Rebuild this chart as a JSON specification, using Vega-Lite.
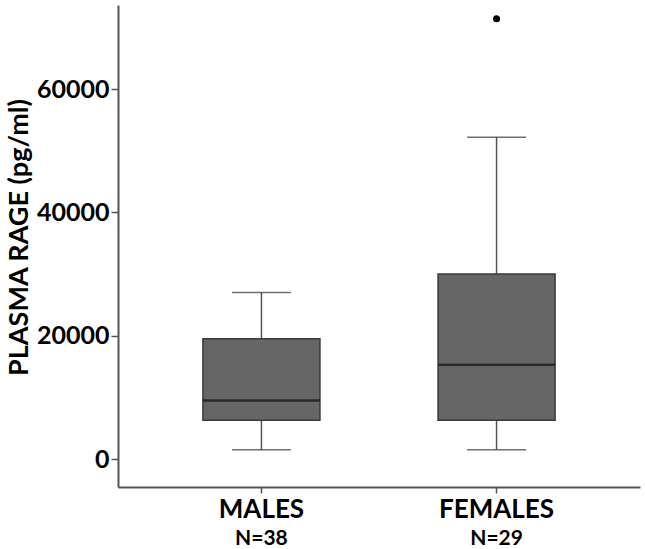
{
  "$schema": "https://vega.github.io/schema/vega-lite/v6.json",
  "width": 522,
  "height": 482,
  "autosize": {"type": "none"},
  "padding": {"left": 118, "top": 5, "right": 5, "bottom": 62},
  "background": "white",
  "config": {
    "view": {"stroke": null},
    "font": "Lato",
    "axis": {"grid": false, "domainColor": "#555555", "domainWidth": 2, "tickColor": "#555555", "tickWidth": 1.5, "labelFont": "Lato", "labelFontWeight": "bold", "labelColor": "#000000", "titleFont": "Lato", "titleFontWeight": "bold", "titleColor": "#000000"}
  },
  "datasets": {
    "boxes": [
      {"group": "MALES", "n": "N=38", "lower": 1500, "q1": 6300, "median": 9500, "q3": 19500, "upper": 27000},
      {"group": "FEMALES", "n": "N=29", "lower": 1500, "q1": 6300, "median": 15300, "q3": 30000, "upper": 52200}
    ],
    "outliers": [
      {"group": "FEMALES", "value": 71400}
    ]
  },
  "layer": [
    {
      "encoding": {
        "x": {
          "field": "group", "type": "nominal", "sort": ["MALES", "FEMALES"],
          "scale": {"paddingInner": 0, "paddingOuter": 0.11},
          "axis": {"title": null, "labelAngle": 0, "labelFontSize": 26, "labelPadding": 3, "tickSize": 6, "orient": "bottom"}
        }
      },
      "layer": [
        {
          "data": {"name": "boxes"},
          "mark": {"type": "rule", "color": "#555555", "strokeWidth": 1.5},
          "encoding": {
            "y": {"field": "lower", "type": "quantitative", "scale": {"domain": [-4540, 73640], "nice": false, "zero": false},
              "axis": {"title": "PLASMA RAGE (pg/ml)", "values": [0, 20000, 40000, 60000], "format": "d", "labelFontSize": 25, "labelPadding": 2, "tickSize": 7, "titleFontSize": 27, "titlePadding": 3, "titleY": 232}},
            "y2": {"field": "upper"}
          }
        },
        {
          "data": {"name": "boxes"},
          "mark": {"type": "bar", "size": 117, "color": "#666666", "stroke": "#3a3a3a", "strokeWidth": 1.5},
          "encoding": {"y": {"field": "q1", "type": "quantitative"}, "y2": {"field": "q3"}}
        },
        {
          "data": {"name": "boxes"},
          "mark": {"type": "tick", "size": 117, "thickness": 2.5, "color": "#111111"},
          "encoding": {"y": {"field": "median", "type": "quantitative"}}
        },
        {
          "data": {"name": "boxes"},
          "mark": {"type": "tick", "size": 59, "thickness": 1.5, "color": "#333333"},
          "encoding": {"y": {"field": "lower", "type": "quantitative"}}
        },
        {
          "data": {"name": "boxes"},
          "mark": {"type": "tick", "size": 59, "thickness": 1.5, "color": "#333333"},
          "encoding": {"y": {"field": "upper", "type": "quantitative"}}
        },
        {
          "data": {"name": "outliers"},
          "mark": {"type": "circle", "size": 50, "color": "#000000", "opacity": 1},
          "encoding": {"y": {"field": "value", "type": "quantitative"}}
        }
      ]
    },
    {
      "data": {"name": "boxes"},
      "mark": {"type": "tick", "opacity": 0},
      "encoding": {
        "x": {"field": "group", "type": "nominal", "sort": ["MALES", "FEMALES"],
          "axis": {"orient": "bottom", "title": null, "labelAngle": 0, "domain": false, "ticks": false, "labelFontSize": 21, "labelPadding": 0, "offset": 40, "labelExpr": "datum.value == 'MALES' ? 'N=38' : 'N=29'"}},
        "y": {"field": "median", "type": "quantitative"}
      }
    }
  ],
  "resolve": {"axis": {"x": "independent"}}
}
